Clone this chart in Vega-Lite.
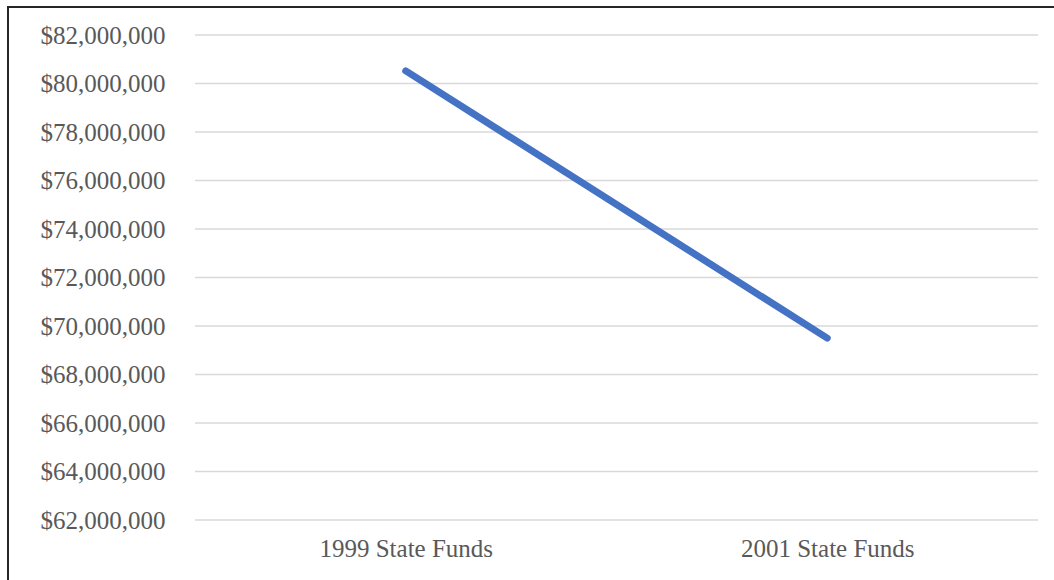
{
  "$schema": "https://vega.github.io/schema/vega-lite/v6.json",
  "autosize": "none",
  "padding": {"left": 8, "top": 7, "right": 0, "bottom": 0},
  "width": 1120,
  "height": 640,
  "background": "white",
  "config": {
    "view": {"stroke": "#262626", "strokeWidth": 2},
    "axis": {"labelFont": "Liberation Serif", "labelFontSize": 25, "labelColor": "#595959"}
  },
  "datasets": {
    "funds": [
      {"category": "1999 State Funds", "amount": 80520000},
      {"category": "2001 State Funds", "amount": 69500000}
    ],
    "grid": [
      {"v": 62000000}, {"v": 64000000}, {"v": 66000000}, {"v": 68000000},
      {"v": 70000000}, {"v": 72000000}, {"v": 74000000}, {"v": 76000000},
      {"v": 78000000}, {"v": 80000000}, {"v": 82000000}
    ]
  },
  "layer": [
    {
      "data": {"name": "grid"},
      "mark": {"type": "rule", "color": "#d9d9d9", "strokeWidth": 1.5},
      "encoding": {
        "y": {"field": "v", "type": "quantitative"},
        "x": {"datum": 0, "type": "quantitative", "scale": {"domain": [0, 1], "range": [187, 1030]}, "axis": null},
        "x2": {"datum": 1}
      }
    },
    {
      "data": {"name": "funds"},
      "mark": {"type": "line", "color": "#4472C4", "strokeWidth": 7, "strokeCap": "round"},
      "encoding": {
        "x": {
          "field": "category", "type": "nominal",
          "scale": {"type": "point", "range": [187, 1030], "padding": 0.5},
          "axis": {"title": null, "labelAngle": 0, "ticks": false, "domain": false, "grid": false, "offset": -127, "labelPadding": 16}
        },
        "y": {
          "field": "amount", "type": "quantitative",
          "scale": {"domain": [62000000, 82000000], "range": [513, 28], "nice": false, "zero": false},
          "axis": {"title": null, "format": "$,.0f", "values": [62000000, 64000000, 66000000, 68000000, 70000000, 72000000, 74000000, 76000000, 78000000, 80000000, 82000000], "grid": false, "ticks": false, "domain": false, "offset": -187, "labelPadding": 30}
        }
      }
    }
  ],
  "resolve": {"scale": {"x": "independent"}}
}
